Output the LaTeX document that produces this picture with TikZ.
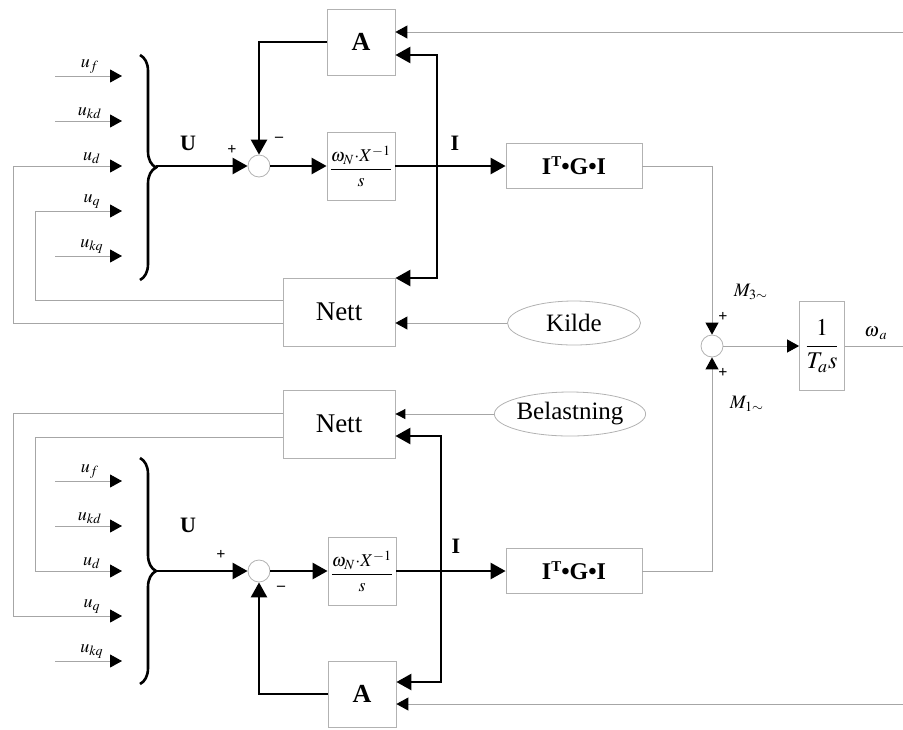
\documentclass[tikz,border=0pt]{standalone}
\usepackage{amsmath}
\usepackage{mathptmx}
\usepackage{fontspec}
\setmainfont{Liberation Serif}
\usetikzlibrary{arrows.meta,decorations.pathreplacing,shapes.geometric}

\newcommand{\igitext}{I\raisebox{0.7ex}{\fontsize{7.5}{8}\selectfont T}•G•I}

\begin{document}
\begin{tikzpicture}[x=0.5pt,y=-0.5pt,
  blk/.style={draw=gray!60, line width=0.4pt, inner sep=0pt},
  sumnode/.style={circle, draw=gray!60, line width=0.4pt, minimum size=11pt, inner sep=0pt},
  cloud/.style={ellipse, draw=gray!60, line width=0.4pt, inner sep=0pt, font=\fontsize{12.5}{14}\selectfont},
  nettbox/.style={blk, minimum width=56pt, minimum height=34pt, font=\fontsize{13.5}{15}\selectfont},
  abox/.style={blk, minimum width=34pt, minimum height=33pt, font=\fontsize{13}{15}\selectfont\bfseries},
  intbox/.style={blk, minimum width=34pt, minimum height=34pt, font=\fontsize{9}{10}\selectfont},
  igibox/.style={blk, minimum width=68pt, minimum height=22.5pt, font=\fontsize{12}{14}\selectfont\bfseries},
  heavy/.style={line width=1.3pt, -{Triangle[length=7.5pt,width=8pt]}},
  light/.style={draw=gray!70, line width=0.45pt, -{Triangle[length=6pt,width=6.5pt,color=black]}},
  wire/.style={draw=gray!70, line width=0.45pt},
  ulab/.style={anchor=south, inner sep=1pt, font=\fontsize{9}{10}\selectfont},
  sgn/.style={inner sep=0pt, font=\fontsize{8}{9}\selectfont\bfseries},
  bold/.style={inner sep=0pt, font=\fontsize{11}{13}\selectfont\bfseries},
  mlab/.style={inner sep=0pt, font=\fontsize{9.5}{11}\selectfont}]
  \useasboundingbox (0,0) rectangle (903,729);

  % Upper half — source side
  \node[abox] (At) at (361,42) {A};
  \node[intbox] (intT) at (361,166) {$\dfrac{\omega_N{\cdot}X^{-1}}{s}$};
  \node[nettbox] (NettT) at (339,312) {Nett};
  \node[igibox] (igiT) at (574,166) {\igitext};
  \node[sumnode] (sumT) at (259,166) {};
  \node[cloud, minimum width=66.5pt, minimum height=22pt] (kilde) at (574,323) {Kilde};
  \coordinate (ufT) at (122,76);
  \coordinate (ukdT) at (122,121);
  \coordinate (udT) at (122,166);
  \coordinate (uqT) at (122,211);
  \coordinate (ukqT) at (122,256);
  \coordinate (tipT) at (156,166);
  \coordinate (jT) at (437,166);
  \coordinate (jTa) at (437,55);
  \coordinate (jTb) at (437,278);
  \coordinate (fbT) at (903,32);
  % inputs and brace
  \draw[light] ([xshift=-33.5pt]ufT) -- (ufT);
  \draw[light] ([xshift=-33.5pt]ukdT) -- (ukdT);
  \draw[light] ([xshift=-33.5pt]ukqT) -- (ukqT);
  \node[ulab] at ([xshift=-16pt]ufT) {$u_f$};
  \node[ulab] at ([xshift=-16pt]ukdT) {$u_{kd}$};
  \node[ulab] at ([xshift=-15pt]udT) {$u_d$};
  \node[ulab] at ([xshift=-15pt]uqT) {$u_q$};
  \node[ulab] at ([xshift=-15pt]ukqT) {$u_{kq}$};
  \draw[line width=1.3pt, decorate, decoration={brace, amplitude=8pt}] (140,55) -- (140,280);
  \node[bold] at (188,143) {U};
  \draw[heavy] (tipT) -- (sumT);
  \node[sgn] at (232,150) {+};
  \node[sgn] at (279,139) {\textendash};
  \draw[heavy] (At.west) -| (sumT);
  \draw[heavy] (sumT) -- (intT);
  \draw[heavy] (intT) -- (igiT);
  \node[bold] at (455,143) {I};
  \draw[heavy] (jT) -- (jTa) -- (jTa -| At.east);
  \draw[heavy] (jT) -- (jTb) -- (jTb -| NettT.east);
  \draw[light] (fbT) -- (fbT -| At.east);
  \draw[light] (kilde) -- (kilde -| NettT.east);
  \draw[light] ([yshift=-5.5pt]NettT.west) -| (13,166) -- (udT);
  \draw[light] ([yshift=6pt]NettT.west) -| (35,211) -- (uqT);

  % Speed summation
  \node[sumnode] (sumM) at (712,346) {};
  \node[blk, minimum width=22.5pt, minimum height=44.5pt, font=\fontsize{12}{14}\selectfont] (taB) at (822,346) {$\dfrac{1}{T_a s}$};
  \coordinate (wEnd) at (903,346);
  \draw[light] (igiT.east) -| (sumM);
  \draw[light] (sumM) -- (taB);
  \draw[wire] (taB.east) -- (wEnd);
  \node[sgn] at (723,317) {+};
  \node[sgn] at (723,373) {+};
  \node[mlab] at (751,292) {$M_{3\sim}$};
  \node[mlab] at (747,404) {$M_{1\sim}$};
  \node[mlab, anchor=south] at (876,340) {$\omega_{\kern1pt a}$};

  % Lower half — load side
  \node[nettbox] (NettB) at (339,424) {Nett};
  \node[cloud, minimum width=67pt, minimum height=22pt] (belast) at (570,414) {Belastning};
  \node[intbox] (intB) at (362,571) {$\dfrac{\omega_N{\cdot}X^{-1}}{s}$};
  \node[igibox] (igiB) at (574,571) {\igitext};
  \node[sumnode] (sumB) at (259,571) {};
  \node[abox] (AB) at (362,694) {A};
  \coordinate (ufB) at (122,481);
  \coordinate (ukdB) at (122,526);
  \coordinate (udB) at (122,571);
  \coordinate (uqB) at (122,616);
  \coordinate (ukqB) at (122,661);
  \coordinate (tipB) at (156,571);
  \coordinate (jB) at (441,571);
  \coordinate (jBa) at (441,436);
  \coordinate (jBb) at (441,682);
  \coordinate (fbB) at (903,704);
  % inputs and brace
  \draw[light] ([xshift=-33.5pt]ufB) -- (ufB);
  \draw[light] ([xshift=-33.5pt]ukdB) -- (ukdB);
  \draw[light] ([xshift=-33.5pt]ukqB) -- (ukqB);
  \node[ulab] at ([xshift=-16pt]ufB) {$u_f$};
  \node[ulab] at ([xshift=-16pt]ukdB) {$u_{kd}$};
  \node[ulab] at ([xshift=-15pt]udB) {$u_d$};
  \node[ulab] at ([xshift=-15pt]uqB) {$u_q$};
  \node[ulab] at ([xshift=-15pt]ukqB) {$u_{kq}$};
  \draw[line width=1.3pt, decorate, decoration={brace, amplitude=8pt}] (140,458) -- (140,684);
  \node[bold] at (188,525) {U};
  \draw[heavy] (tipB) -- (sumB);
  \node[sgn] at (221,555) {+};
  \node[sgn] at (281,588) {\textendash};
  \draw[heavy] (AB.west) -| (sumB);
  \draw[heavy] (sumB) -- (intB);
  \draw[heavy] (intB) -- (igiB);
  \node[bold] at (456,546) {I};
  \draw[heavy] (jB) -- (jBa) -- (jBa -| NettB.east);
  \draw[heavy] (jB) -- (jBb) -- (jBb -| AB.east);
  \draw[light] (fbB) -- (fbB -| AB.east);
  \draw[draw=gray!70, line width=0.45pt, -{Triangle[length=5pt,width=5pt,color=black]}] (belast) -- (belast -| NettB.east);
  \draw[light] ([yshift=5.5pt]NettB.west) -| (13,616) -- (uqB);
  \draw[light] ([yshift=-6.5pt]NettB.west) -| (35,571) -- (udB);
  \draw[light] (igiB.east) -| (sumM);
\end{tikzpicture}
\end{document}
